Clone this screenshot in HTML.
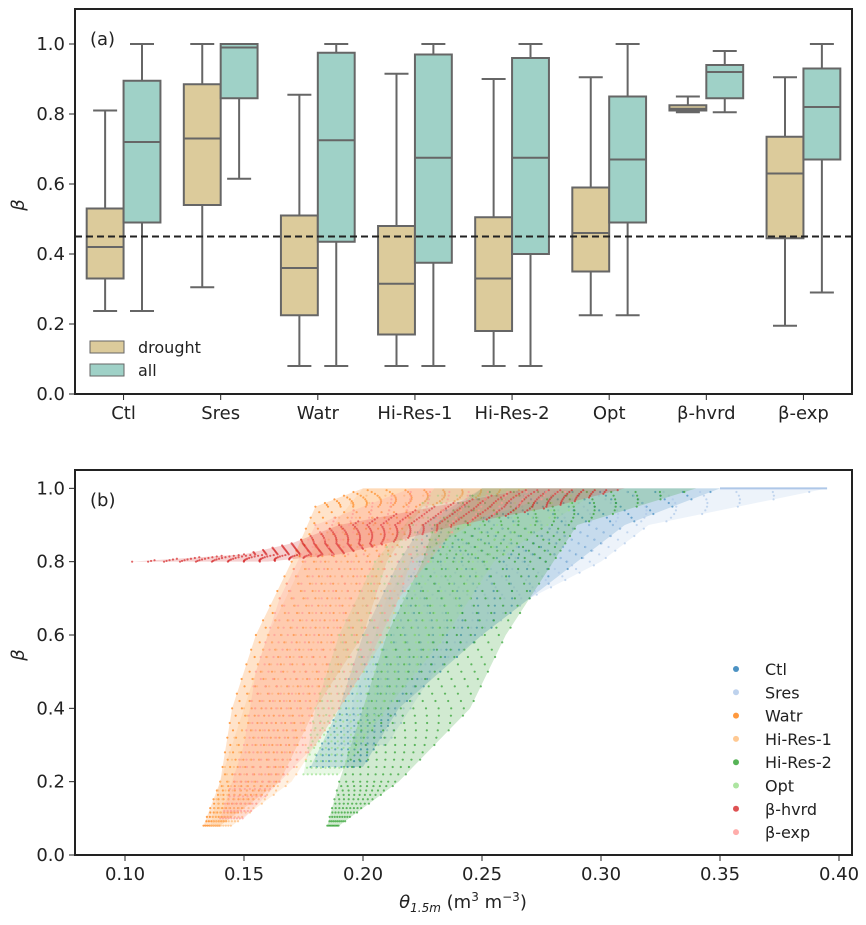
<!DOCTYPE html>
<html><head><meta charset="utf-8"><style>
body{margin:0;background:#fff;font-family:"Liberation Sans","DejaVu Sans",sans-serif}
svg text{font-family:"DejaVu Sans","Liberation Sans",sans-serif;fill:#222}
</style></head><body>
<svg id="c" width="866" height="920" xmlns="http://www.w3.org/2000/svg"></svg>
<script>
const groups=["Ctl","Sres","Watr","Hi-Res-1","Hi-Res-2","Opt","β-hvrd","β-exp"];
const droughtStats=[[0.237,0.33,0.42,0.53,0.81],[0.305,0.54,0.73,0.885,1.0],[0.08,0.225,0.36,0.51,0.855],[0.08,0.17,0.315,0.48,0.915],[0.08,0.18,0.33,0.505,0.9],[0.225,0.35,0.46,0.59,0.905],[0.805,0.81,0.815,0.825,0.85],[0.195,0.445,0.63,0.735,0.905]];
const allStats=[[0.237,0.49,0.72,0.895,1.0],[0.615,0.845,0.99,1.0,1.0],[0.08,0.435,0.725,0.975,1.0],[0.08,0.375,0.675,0.97,1.0],[0.08,0.4,0.675,0.96,1.0],[0.225,0.49,0.67,0.85,1.0],[0.805,0.845,0.92,0.94,0.98],[0.29,0.67,0.82,0.93,1.0]];
const refLine=0.45;
const yTicksA=[0,0.2,0.4,0.6,0.8,1.0];
const seriesNames=["Ctl","Sres","Watr","Hi-Res-1","Hi-Res-2","Opt","β-hvrd","β-exp"];
const seriesColors=["#1f77b4","#aec7e8","#ff7f0e","#ffbb78","#2ca02c","#98df8a","#d62728","#ff9896"];
const envBeta=[[0.24,0.4,0.6,0.8,0.9,1.0],[0.3,0.5,0.7,0.8,0.9,1.0],[0.08,0.2,0.4,0.6,0.8,0.95,1.0],[0.08,0.2,0.4,0.6,0.8,1.0],[0.08,0.2,0.4,0.6,0.8,0.9,1.0],[0.22,0.4,0.6,0.8,1.0],[0.80,0.82,0.85,0.9,0.95,1.0],[0.1,0.3,0.5,0.7,0.9,1.0]];
const envMin=[[0.178,0.19,0.2,0.215,0.225,0.25],[0.19,0.2,0.21,0.22,0.235,0.26],[0.133,0.14,0.145,0.155,0.17,0.18,0.2],[0.136,0.14,0.15,0.16,0.175,0.2],[0.185,0.19,0.2,0.21,0.225,0.23,0.25],[0.175,0.18,0.19,0.205,0.23],[0.103,0.15,0.17,0.19,0.23,0.27],[0.14,0.15,0.155,0.165,0.18,0.22]];
const envMax=[[0.2,0.215,0.25,0.29,0.31,0.35],[0.21,0.23,0.27,0.3,0.32,0.395],[0.14,0.165,0.18,0.2,0.21,0.225,0.27],[0.145,0.17,0.19,0.21,0.22,0.27],[0.19,0.215,0.245,0.26,0.28,0.29,0.34],[0.19,0.21,0.235,0.255,0.3],[0.16,0.19,0.21,0.24,0.28,0.31],[0.15,0.18,0.2,0.215,0.24,0.29]];
const xTicksB=[0.10,0.15,0.20,0.25,0.30,0.35,0.40];
const yTicksB=[0,0.2,0.4,0.6,0.8,1.0];

const S=document.getElementById('c'),NS="http://www.w3.org/2000/svg";
function mk(t,a,p){const e=document.createElementNS(NS,t);for(const k in a)e.setAttribute(k,a[k]);(p||S).appendChild(e);return e;}
function tx(x,y,s,a,p){const e=mk('text',Object.assign({x:x,y:y,'font-size':18},a||{}),p);e.textContent=s;return e;}
const AL=75,AR=852,AT=9,AB=394;
const ya=v=>AB-v/1.1*(AB-AT);
const gw=(AR-AL)/8;
const gA=mk('g',{});

yTicksA.forEach(v=>{mk('line',{x1:AL-6,x2:AL,y1:ya(v),y2:ya(v),stroke:'#222'},gA);tx(AL-10,ya(v)+6,v.toFixed(1),{'text-anchor':'end'},gA);});
function box(st,x0,w,col,nm){
 const g=mk('g',{},gA);
 const cx=x0+w/2,st2={stroke:'#666','stroke-width':2};
 mk('line',Object.assign({x1:cx,x2:cx,y1:ya(st[0]),y2:ya(st[1])},st2),g);
 mk('line',Object.assign({x1:cx,x2:cx,y1:ya(st[3]),y2:ya(st[4])},st2),g);
 mk('line',Object.assign({x1:cx-12,x2:cx+12,y1:ya(st[0]),y2:ya(st[0])},st2),g);
 mk('line',Object.assign({x1:cx-12,x2:cx+12,y1:ya(st[4]),y2:ya(st[4])},st2),g);
 mk('rect',Object.assign({x:x0,y:ya(st[3]),width:w,height:Math.max(1,ya(st[1])-ya(st[3])),fill:col},st2),g);
 mk('line',Object.assign({x1:x0,x2:x0+w,y1:ya(st[2]),y2:ya(st[2])},st2),g);
}
groups.forEach((n,i)=>{const c=AL+gw*(i+0.5);
 box(droughtStats[i],c-gw*0.39+1,gw*0.39-1,'#dccb9b','box-drought-'+i);
 box(allStats[i],c,gw*0.39-1,'#9fd1c7','box-all-'+i);
 mk('line',{x1:c,x2:c,y1:AB,y2:AB+6,stroke:'#222'},gA);
 tx(c,AB+25,n,{'text-anchor':'middle'},gA);});
mk('line',{x1:AL,x2:AR,y1:ya(refLine),y2:ya(refLine),stroke:'#222','stroke-width':2,'stroke-dasharray':'7,4'},gA);
mk('rect',{x:AL,y:AT,width:AR-AL,height:AB-AT,fill:'none',stroke:'#222','stroke-width':2},gA);
tx(90,45,'(a)',{},gA);
const ya1=tx(24,205,'β',{'font-style':'italic','text-anchor':'middle',transform:'rotate(-90 24 205)'},gA);
mk('rect',{x:90,y:341,width:34,height:12,fill:'#dccb9b',stroke:'#666'},gA);tx(138,353,'drought',{'font-size':16},gA);
mk('rect',{x:90,y:364,width:34,height:12,fill:'#9fd1c7',stroke:'#666'},gA);tx(138,376,'all',{'font-size':16},gA);
const BL=75,BR=852,BT=470,BB=855;
const xb=v=>125+(v-0.10)/0.30*(839-125);
const yb=v=>BB-v/1.05*(BB-BT);
const gB=mk('g',{});
mk('clipPath',{id:'cb'},gB);mk('rect',{x:BL,y:BT,width:BR-BL,height:BB-BT},document.getElementById('cb'));
const gp=mk('g',{'clip-path':'url(#cb)'},gB);
seriesNames.forEach((n,i)=>{
 const g=mk('g',{},gp);
 const b=envBeta[i],lo=envMin[i],hi=envMax[i];
 let pts=b.map((v,k)=>xb(lo[k])+','+yb(v)).concat(b.map((v,k)=>xb(hi[k])+','+yb(v)).reverse());
 mk('polygon',{points:pts.join(' '),fill:seriesColors[i],'fill-opacity':0.22,stroke:'none'},g);
 for(let k=0;k<b.length-1;k++){for(let s=0;s<10;s++){const f=s/10;const vb=b[k]+(b[k+1]-b[k])*f;const l=lo[k]+(lo[k+1]-lo[k])*f,h=hi[k]+(hi[k+1]-hi[k])*f;
  for(let q=0;q<=8;q++){mk('circle',{cx:xb(l+(h-l)*(q+0.5*(s%2))/8.5),cy:yb(vb),r:1.1,fill:seriesColors[i],'fill-opacity':0.7},g);}}}
});
mk('line',{x1:xb(0.35),x2:xb(0.395),y1:yb(1),y2:yb(1),stroke:'#aec7e8','stroke-width':2},gp);
xTicksB.forEach(v=>{mk('line',{x1:xb(v),x2:xb(v),y1:BB,y2:BB+6,stroke:'#222'},gB);tx(xb(v),BB+25,v.toFixed(2),{'text-anchor':'middle'},gB);});
yTicksB.forEach(v=>{mk('line',{x1:BL-6,x2:BL,y1:yb(v),y2:yb(v),stroke:'#222'},gB);tx(BL-10,yb(v)+6,v.toFixed(1),{'text-anchor':'end'},gB);});
mk('rect',{x:BL,y:BT,width:BR-BL,height:BB-BT,fill:'none',stroke:'#222','stroke-width':2},gB);
tx(90,506,'(b)',{},gB);
tx(24,655,'β',{'font-style':'italic','text-anchor':'middle',transform:'rotate(-90 24 655)'},gB);
const xl=mk('text',{x:463,y:908,'font-size':18,'text-anchor':'middle'},gB);
xl.innerHTML='<tspan font-style="italic">θ</tspan><tspan font-size="12" dy="4" font-style="italic">1.5m</tspan><tspan dy="-4"> (m</tspan><tspan font-size="12" dy="-7">3</tspan><tspan dy="7"> m</tspan><tspan font-size="12" dy="-7">−3</tspan><tspan dy="7">)</tspan>';
seriesNames.forEach((n,i)=>{const y=669+i*23.3;
 const g=mk('g',{},gB);
 mk('circle',{cx:736,cy:y,r:3,fill:seriesColors[i],'fill-opacity':0.8},g);tx(765,y+6,n,{'font-size':16},g);});
</script>
</body></html>
